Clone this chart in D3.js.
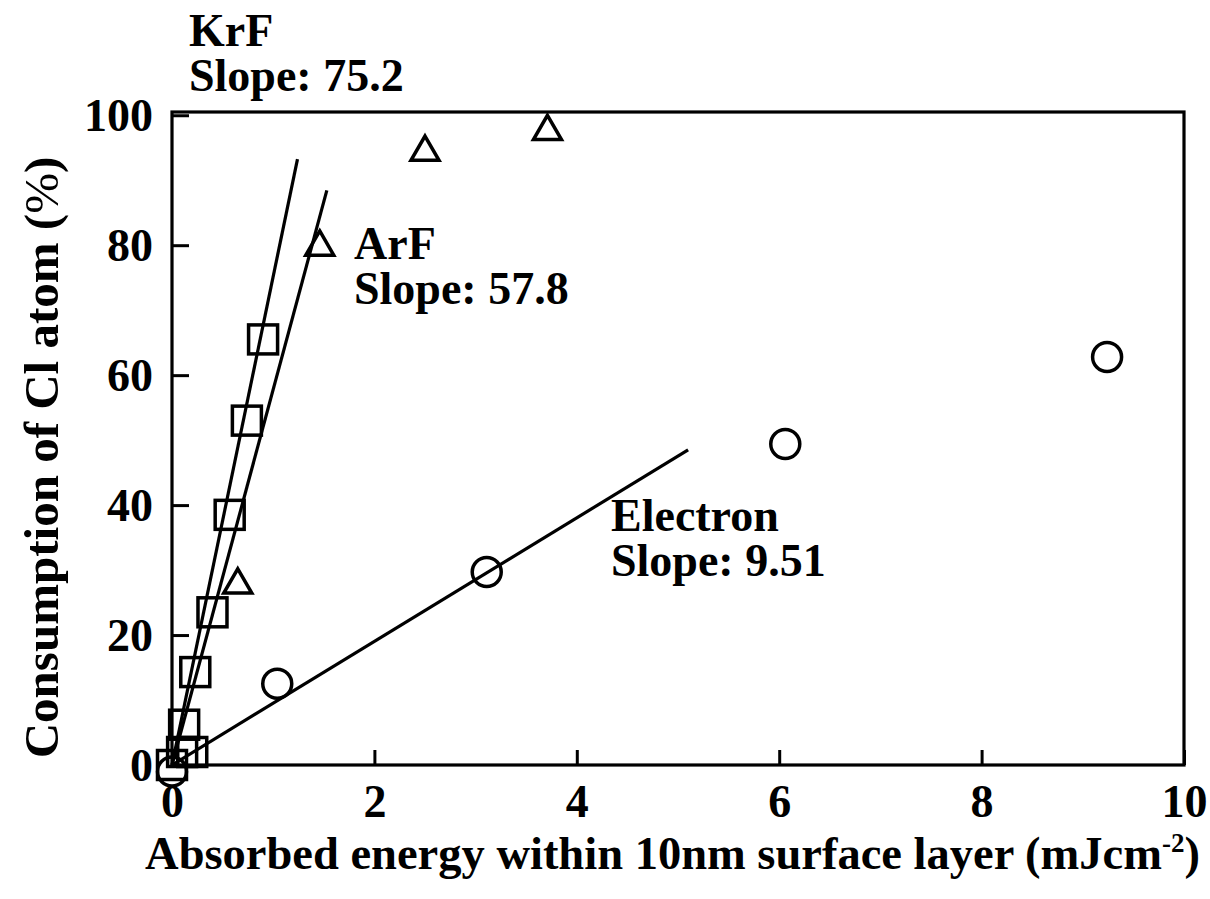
<!DOCTYPE html>
<html>
<head>
<meta charset="utf-8">
<script src="https://cdn.jsdelivr.net/npm/d3@7"></script>
<style>
  html, body { margin: 0; padding: 0; background: #fff; }
  svg { display: block; }
  text { font-family: "Liberation Serif", "Times New Roman", serif; font-weight: bold; fill: #000; }
</style>
</head>
<body>
<svg id="chart" width="1210" height="899"></svg>
<script>
// KrF excimer laser exposure (squares)
const krfX = [0.00, 0.10, 0.20, 0.12, 0.23, 0.40, 0.57, 0.74, 0.90];
const krfY = [0.0, 2.0, 2.0, 6.2, 14.3, 23.5, 38.5, 53.0, 65.5];
// ArF excimer laser exposure (triangles)
const arfX = [0.65, 1.46, 2.50, 3.71];
const arfY = [27.7, 79.7, 94.3, 97.5];
// Electron beam exposure (circles)
const elX = [0.00, 1.04, 3.11, 6.06, 9.24];
const elY = [-1.0, 12.5, 29.7, 49.4, 62.8];

// Linear fits through the origin: slope and x extent of each fitted line
const fitNames = ["KrF", "ArF", "Electron"];
const fitSlopes = [75.2, 57.8, 9.51];
const fitXEnd = [1.24, 1.53, 5.10];

const xTicks = [0, 2, 4, 6, 8, 10];
const yTicks = [0, 20, 40, 60, 80, 100];

const svg = d3.select("#chart");
const plotL = 172, plotR = 1184, plotT = 112, plotB = 765;

const x = d3.scaleLinear().domain([0, 10]).range([plotL, plotR]);
const y = d3.scaleLinear().domain([0, 100.5]).range([plotB, plotT]);

// Frame
svg.append("rect")
  .attr("x", plotL).attr("y", plotT)
  .attr("width", plotR - plotL).attr("height", plotB - plotT)
  .attr("fill", "none").attr("stroke", "#000").attr("stroke-width", 3.2);

// Bottom axis: inward ticks, labels below
const xAxis = svg.append("g").attr("transform", `translate(0,${plotB})`)
  .call(d3.axisBottom(x).tickValues(xTicks).tickSizeInner(-15).tickSizeOuter(0).tickFormat(d3.format("d")));
xAxis.select(".domain").remove();
xAxis.selectAll(".tick line").attr("stroke", "#000").attr("stroke-width", 3);
xAxis.selectAll(".tick text")
  .attr("y", 52).attr("dy", 0)
  .style("font-size", "46px").style("font-family", "Liberation Serif").style("font-weight", "bold");

// Left axis: inward ticks, labels at left
const yAxis = svg.append("g").attr("transform", `translate(${plotL},0)`)
  .call(d3.axisLeft(y).tickValues(yTicks).tickSizeInner(-17).tickSizeOuter(0).tickFormat(d3.format("d")));
yAxis.select(".domain").remove();
yAxis.selectAll(".tick line").attr("stroke", "#000").attr("stroke-width", 3);
yAxis.selectAll(".tick text")
  .attr("x", -19).attr("dy", "0.34em")
  .style("font-size", "46px").style("font-family", "Liberation Serif").style("font-weight", "bold");

// Fitted lines
const line = d3.line().x(d => x(d[0])).y(d => y(d[1]));
fitSlopes.forEach((s, i) => {
  svg.append("path")
    .datum([[0, 0], [fitXEnd[i], s * fitXEnd[i]]])
    .attr("d", line)
    .attr("fill", "none").attr("stroke", "#000").attr("stroke-width", 3.2);
});

const markStroke = 3.5;

// Squares (KrF)
svg.append("g").selectAll("rect")
  .data(d3.zip(krfX, krfY))
  .join("rect")
  .attr("x", d => x(d[0]) - 14.5).attr("y", d => y(d[1]) - 14.5)
  .attr("width", 29).attr("height", 29)
  .attr("fill", "none").attr("stroke", "#000").attr("stroke-width", markStroke);

// Triangles (ArF)
const tri = d3.symbol().type(d3.symbolTriangle).size(340);
svg.append("g").selectAll("path")
  .data(d3.zip(arfX, arfY))
  .join("path")
  .attr("d", tri)
  .attr("transform", d => `translate(${x(d[0])},${y(d[1])})`)
  .attr("fill", "none").attr("stroke", "#000").attr("stroke-width", markStroke);

// Circles (Electron)
svg.append("g").selectAll("circle")
  .data(d3.zip(elX, elY))
  .join("circle")
  .attr("cx", d => x(d[0])).attr("cy", d => y(d[1]))
  .attr("r", 14.5)
  .attr("fill", "none").attr("stroke", "#000").attr("stroke-width", markStroke);

// Fit annotations
const notes = [
  { name: fitNames[0], slope: fitSlopes[0], px: 189, py: 46 },
  { name: fitNames[1], slope: fitSlopes[1], px: 354, py: 259 },
  { name: fitNames[2], slope: fitSlopes[2], px: 611, py: 531 }
];
notes.forEach(n => {
  const t = svg.append("text").attr("x", n.px).attr("y", n.py).style("font-size", "46px");
  t.append("tspan").attr("x", n.px).text(n.name);
  t.append("tspan").attr("x", n.px).attr("dy", 45).text("Slope: " + n.slope);
});

// Axis titles
const xt = svg.append("text")
  .attr("x", (148 + 1197) / 2).attr("y", 869)
  .attr("text-anchor", "middle")
  .style("font-size", "46.5px");
xt.append("tspan").text("Absorbed energy within 10nm surface layer (mJcm");
xt.append("tspan").attr("dy", -17).style("font-size", "27px").text("-2");
xt.append("tspan").attr("dy", 17).text(")");

const yt = svg.append("text")
  .attr("transform", `translate(58,${(150 + 765) / 2}) rotate(-90)`)
  .attr("text-anchor", "middle")
  .style("font-size", "49px");
yt.append("tspan").text("Consumption of Cl atom (");
yt.append("tspan").style("font-weight", "normal").text("%");
yt.append("tspan").text(")");
</script>
</body>
</html>
